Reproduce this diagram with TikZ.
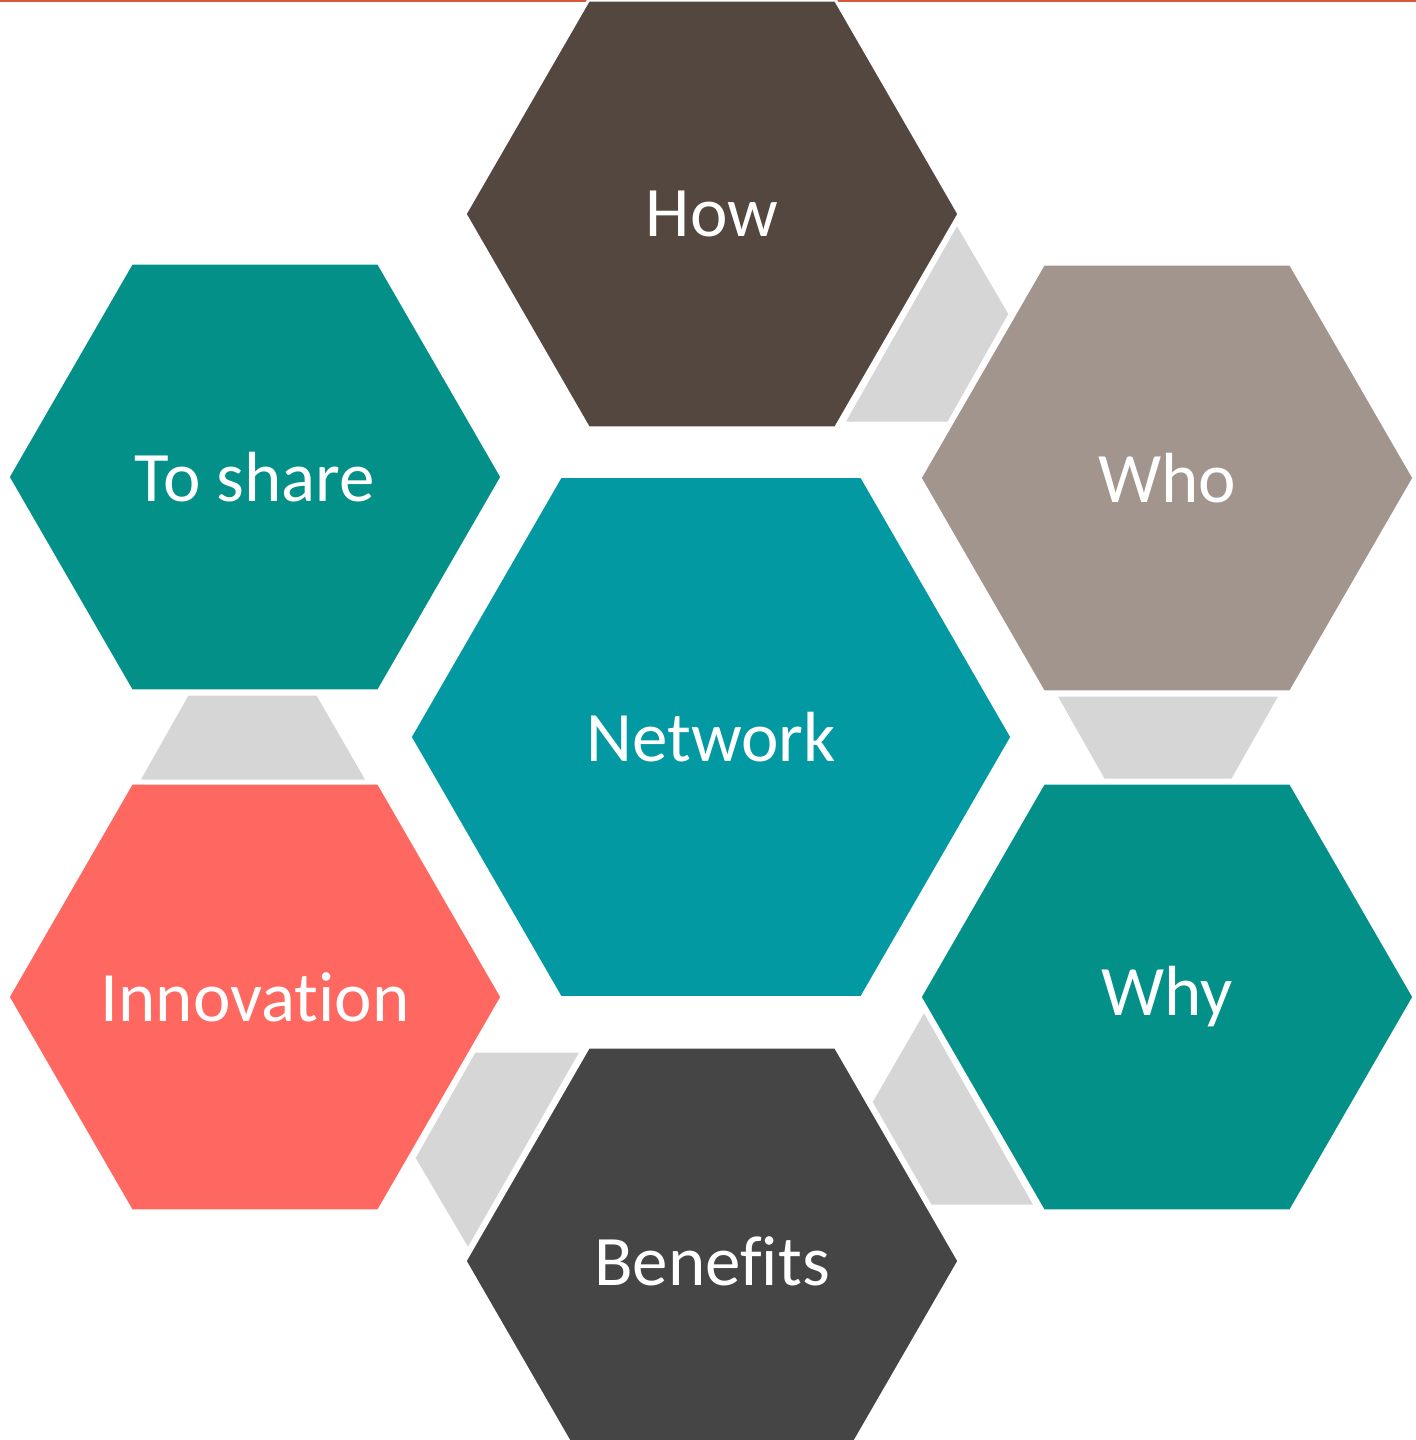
\documentclass[tikz,border=0pt]{standalone}
\usepackage{fontspec}
\setmainfont{Carlito}[Ligatures={NoCommon}]
\usetikzlibrary{shapes.geometric}
\definecolor{cHow}{HTML}{54473F}
\definecolor{cWho}{HTML}{A2958D}
\definecolor{cTeal}{HTML}{029088}
\definecolor{cNet}{HTML}{0399A3}
\definecolor{cInno}{HTML}{FF6860}
\definecolor{cBen}{HTML}{454545}
\definecolor{gapgray}{HTML}{D6D6D6}
\definecolor{orangeline}{HTML}{D65A3A}
\begin{document}
\begin{tikzpicture}[x=0.5pt,y=-0.5pt,
  hexa/.style={regular polygon, regular polygon sides=6, inner sep=0pt, outer sep=0pt,
    minimum size=247pt, draw=white, line width=1.5pt},
  bighexa/.style={hexa, minimum size=301pt},
  lbl/.style={text=white, inner sep=0pt, font=\fontsize{35.5}{42}\selectfont},
  gapshape/.style={fill=gapgray, draw=white, line width=0.5pt}]
\useasboundingbox (0,0) rectangle (1416,1440);
\clip (0,0) rectangle (1416,1440);
\fill[orangeline] (0,0) rectangle (1416,2);
% gray gap pieces
\path[gapshape] (957,225) -- (1009,314) -- (948,422) -- (845,422) -- cycle;
\path[gapshape] (1057,696) -- (1279,696) -- (1232,779) -- (1104,779) -- cycle;
\path[gapshape] (924,1012) -- (1034,1205) -- (931,1205) -- (872,1102) -- cycle;
\path[gapshape] (475,1052) -- (580,1052) -- (468,1248) -- (415,1158) -- cycle;
\path[gapshape] (188,695) -- (317,695) -- (366,780) -- (140,780) -- cycle;
% hexagons
\node[hexa, fill=cHow, label={[lbl]center:How}] (how) at (712,214) {};
\node[hexa, fill=cWho, label={[lbl]center:Who}] (who) at (1167,478) {};
\node[hexa, fill=cTeal, label={[lbl]center:To share}] (share) at (255,477) {};
\node[bighexa, fill=cNet, label={[lbl]center:Network}] (net) at (711,737) {};
\node[hexa, fill=cInno, label={[lbl]center:Innovation}] (inno) at (255,997) {};
\node[hexa, fill=cTeal, label={[lbl]center:Why}] (why) at (1167,997) {};
\node[hexa, fill=cBen, label={[lbl]center:Benefits}] (ben) at (712,1261) {};
\end{tikzpicture}
\end{document}
